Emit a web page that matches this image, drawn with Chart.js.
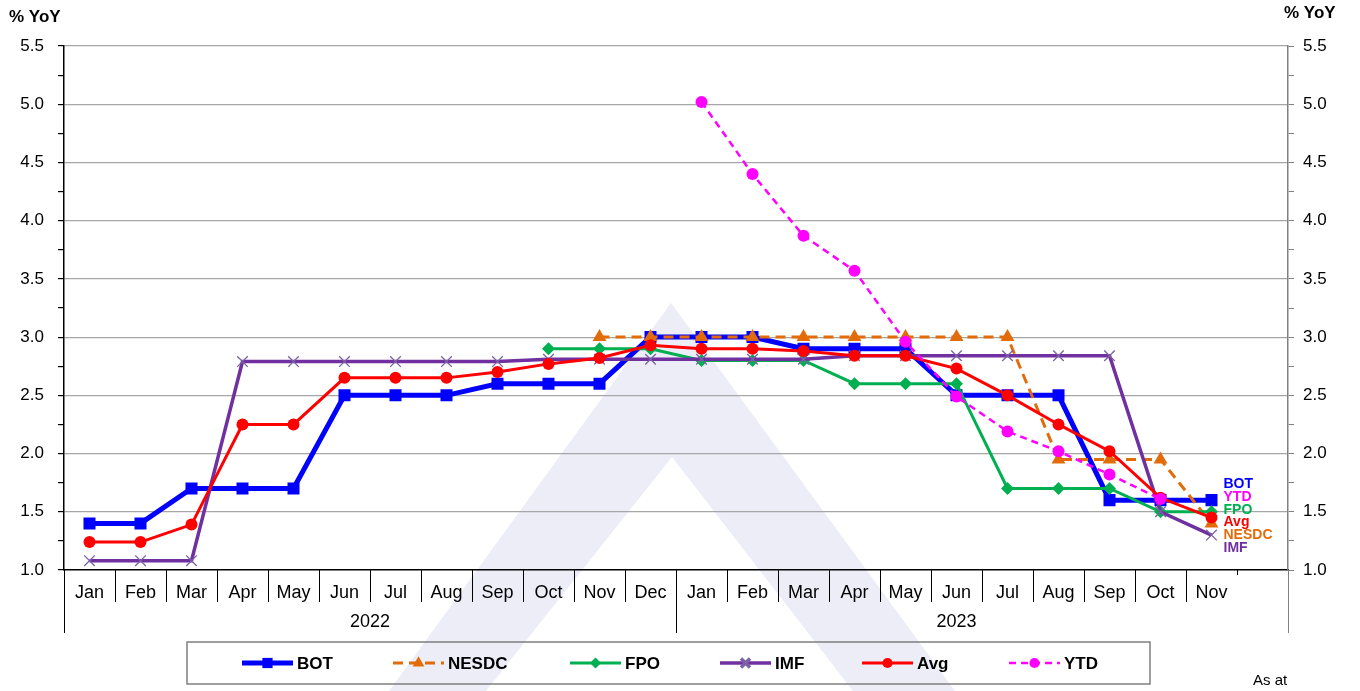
<!DOCTYPE html>
<html><head><meta charset="utf-8">
<script src="https://cdn.jsdelivr.net/npm/chart.js@4.4.0/dist/chart.umd.min.js"></script>
<style>html,body{margin:0;padding:0;background:#fff;overflow:hidden}</style>
</head><body>
<canvas id="c" width="1360" height="691"></canvas>
<script>
// ---------------- data ----------------
const months = ['Jan','Feb','Mar','Apr','May','Jun','Jul','Aug','Sep','Oct','Nov','Dec',
                'Jan','Feb','Mar','Apr','May','Jun','Jul','Aug','Sep','Oct','Nov',''];
const yearLabels = ['2022','2023'];
const yearStart = [0, 12];
const yearEnd = [12, 23];

const botValues   = [1.4,1.4,1.7,1.7,1.7,2.5,2.5,2.5,2.6,2.6,2.6,3.0, 3.0,3.0,2.9,2.9,2.9,2.5,2.5,2.5,1.6,1.6,1.6,null];
const nesdcValues = [null,null,null,null,null,null,null,null,null,null,3.0,3.0, 3.0,3.0,3.0,3.0,3.0,3.0,3.0,1.95,1.95,1.95,1.4,null];
const fpoValues   = [null,null,null,null,null,null,null,null,null,2.9,2.9,2.9, 2.8,2.8,2.8,2.6,2.6,2.6,1.7,1.7,1.7,1.5,1.5,null];
const imfValues   = [1.08,1.08,1.08,2.79,2.79,2.79,2.79,2.79,2.79,2.81,2.81,2.81, 2.81,2.81,2.81,2.84,2.84,2.84,2.84,2.84,2.84,1.5,1.3,null];
const avgValues   = [1.24,1.24,1.39,2.25,2.25,2.65,2.65,2.65,2.70,2.77,2.82,2.93, 2.90,2.90,2.88,2.84,2.84,2.73,2.50,2.25,2.02,1.62,1.45,null];
const ytdValues   = [null,null,null,null,null,null,null,null,null,null,null,null, 5.02,4.40,3.87,3.57,2.96,2.49,2.19,2.02,1.82,1.61,null,null];

const rightLabelOrder = ['BOT','YTD','FPO','Avg','NESDC','IMF'];

// ---------------- styles ----------------
const FONT = "'Liberation Sans', Arial, Helvetica, sans-serif";
const colors = {BOT:'#0000FF', NESDC:'#E36C0A', FPO:'#00B050', IMF:'#7030A0', Avg:'#FF0000', YTD:'#FF00FF'};

const datasets = [
  {label:'BOT', data:botValues, borderColor:colors.BOT, backgroundColor:colors.BOT, borderWidth:5,
   pointStyle:'rect', pointRadius:8.5, pointBorderWidth:0, pointBackgroundColor:colors.BOT, order:6},
  {label:'NESDC', data:nesdcValues, borderColor:colors.NESDC, backgroundColor:colors.NESDC, borderWidth:3, borderDash:[10,6],
   pointStyle:'triangle', pointRadius:8, pointBorderWidth:0, pointBackgroundColor:colors.NESDC, order:5},
  {label:'FPO', data:fpoValues, borderColor:colors.FPO, backgroundColor:colors.FPO, borderWidth:3,
   pointStyle:'rectRot', pointRadius:6.5, pointBorderWidth:0, pointBackgroundColor:colors.FPO, order:4},
  {label:'IMF', data:imfValues, borderColor:colors.IMF, backgroundColor:colors.IMF, borderWidth:3.5,
   pointStyle:'crossRot', pointRadius:7.5, pointBorderWidth:1.3, pointBorderColor:'#7B62A6', order:3},
  {label:'Avg', data:avgValues, borderColor:colors.Avg, backgroundColor:colors.Avg, borderWidth:3,
   pointStyle:'circle', pointRadius:6, pointBorderWidth:0, pointBackgroundColor:colors.Avg, order:2},
  {label:'YTD', data:ytdValues, borderColor:colors.YTD, backgroundColor:colors.YTD, borderWidth:2.5, borderDash:[7,5],
   pointStyle:'circle', pointRadius:6, pointBorderWidth:0, pointBackgroundColor:colors.YTD, order:1}
];
datasets.forEach(d => { d.tension = 0; d.fill = false; d.spanGaps = false; d.pointHoverRadius = d.pointRadius; });

function isMajor(v){ return Math.abs(v*2 - Math.round(v*2)) < 1e-6; }

const deco = {
  id:'deco',
  beforeDraw(chart){
    const ctx = chart.ctx;
    ctx.save();
    ctx.fillStyle = '#EDEDF8';
    ctx.beginPath();
    ctx.moveTo(389,691); ctx.lineTo(671,303); ctx.lineTo(955,691); ctx.closePath();
    ctx.moveTo(486,691); ctx.lineTo(672,457); ctx.lineTo(853,691); ctx.closePath();
    ctx.fill('evenodd');
    ctx.restore();
  },
  afterDraw(chart){
    const ctx = chart.ctx, xs = chart.scales.x, ys = chart.scales.y, area = chart.chartArea;
    const step = (xs.getPixelForValue(1) - xs.getPixelForValue(0));
    const edge = i => xs.getPixelForValue(0) - step/2 + i*step;
    ctx.save();
    // category separators
    ctx.lineWidth = 1;
    for (let i = 0; i <= 24; i++) {
      let len = 32;
      if (i === 0 || i === 12 || i === 24) len = 63;
      if (i === 23) len = 5;
      const x = Math.round(edge(i)) + 0.5;
      ctx.strokeStyle = (i === 24) ? '#808080' : '#000';
      ctx.beginPath(); ctx.moveTo(x, area.bottom); ctx.lineTo(x, area.bottom + len); ctx.stroke();
    }
    // year labels
    ctx.fillStyle = '#000'; ctx.font = '18px ' + FONT; ctx.textAlign = 'center'; ctx.textBaseline = 'middle';
    yearLabels.forEach((t, k) => {
      ctx.fillText(t, (edge(yearStart[k]) + edge(yearEnd[k])) / 2, area.bottom + 52);
    });
    // axis titles
    ctx.font = 'bold 17px ' + FONT; ctx.textAlign = 'left';
    ctx.fillText('% YoY', 9, 17);
    ctx.fillText('% YoY', 1284, 13);
    // right-side series labels
    ctx.font = 'bold 14px ' + FONT; ctx.textAlign = 'left';
    const lx = xs.getPixelForValue(22) + 12;
    const ly0 = ys.getPixelForValue(1.6) - 16;
    rightLabelOrder.forEach((n, k) => {
      ctx.fillStyle = colors[n];
      ctx.fillText(n, lx, ly0 + k*12.8);
    });
    // legend
    const bx = 187, by = 642, bw = 963, bh = 42;
    ctx.strokeStyle = '#7f7f7f'; ctx.lineWidth = 1.5;
    ctx.strokeRect(bx, by, bw, bh);
    const legX = [242, 393, 570, 720, 862, 1009];
    const ly = by + bh/2;
    datasets.forEach((d, k) => {
      const x1 = legX[k], x2 = x1 + 51;
      ctx.save();
      ctx.strokeStyle = d.borderColor; ctx.lineWidth = d.borderWidth;
      ctx.setLineDash(d.borderDash || []);
      ctx.beginPath(); ctx.moveTo(x1, ly); ctx.lineTo(x2, ly); ctx.stroke();
      ctx.setLineDash([]);
      ctx.fillStyle = d.pointBackgroundColor || d.borderColor;
      ctx.strokeStyle = d.pointBorderColor || d.borderColor;
      Chart.helpers.drawPoint(ctx, {pointStyle:d.pointStyle, radius:d.pointRadius*0.85, rotation:0, borderWidth:d.pointBorderWidth}, (x1+x2)/2, ly);
      ctx.restore();
      ctx.fillStyle = '#000'; ctx.font = 'bold 17px ' + FONT; ctx.textAlign = 'left'; ctx.textBaseline = 'middle';
      ctx.fillText(d.label, x2 + 4, ly + 1);
    });
    ctx.font = '15px ' + FONT; ctx.fillStyle = '#000';
    ctx.fillText('As at', 1253, 681);
    ctx.restore();
  }
};

new Chart(document.getElementById('c'), {
  type:'line',
  data:{labels:months, datasets},
  options:{
    responsive:false, animation:false, devicePixelRatio:1,
    layout:{padding:{top:46, bottom:0, left:0, right:0}},
    plugins:{legend:{display:false}, tooltip:{enabled:false}},
    scales:{
      x:{type:'category', offset:true,
         grid:{display:false, drawTicks:false},
         border:{display:true, color:'#000', width:1.5},
         ticks:{font:{size:18, family:FONT}, color:'#000', padding:12, autoSkip:false, maxRotation:0, minRotation:0},
         afterFit(s){ s.height = 121; }},
      y:{position:'left', min:1, max:5.5,
         ticks:{stepSize:0.25, font:{size:17, family:FONT}, color:'#000', padding:14,
                callback:v => isMajor(v) ? v.toFixed(1) : ''},
         grid:{color:c => (c.tick && isMajor(c.tick.value) && c.tick.value > 1.001) ? '#a6a6a6' : 'rgba(0,0,0,0)',
               tickColor:'#000', tickLength:6, lineWidth:1.2},
         border:{display:true, color:'#000', width:1.5},
         afterFit(s){ s.width = 64; }},
      y2:{position:'right', min:1, max:5.5,
         ticks:{stepSize:0.25, font:{size:17, family:FONT}, color:'#000', padding:9,
                callback:v => isMajor(v) ? v.toFixed(1) : ''},
         grid:{drawOnChartArea:false, tickColor:'#808080', tickLength:6},
         border:{display:true, color:'#808080', width:1.5},
         afterFit(s){ s.width = 72; }}
    }
  },
  plugins:[deco]
});
</script>
</body></html>
